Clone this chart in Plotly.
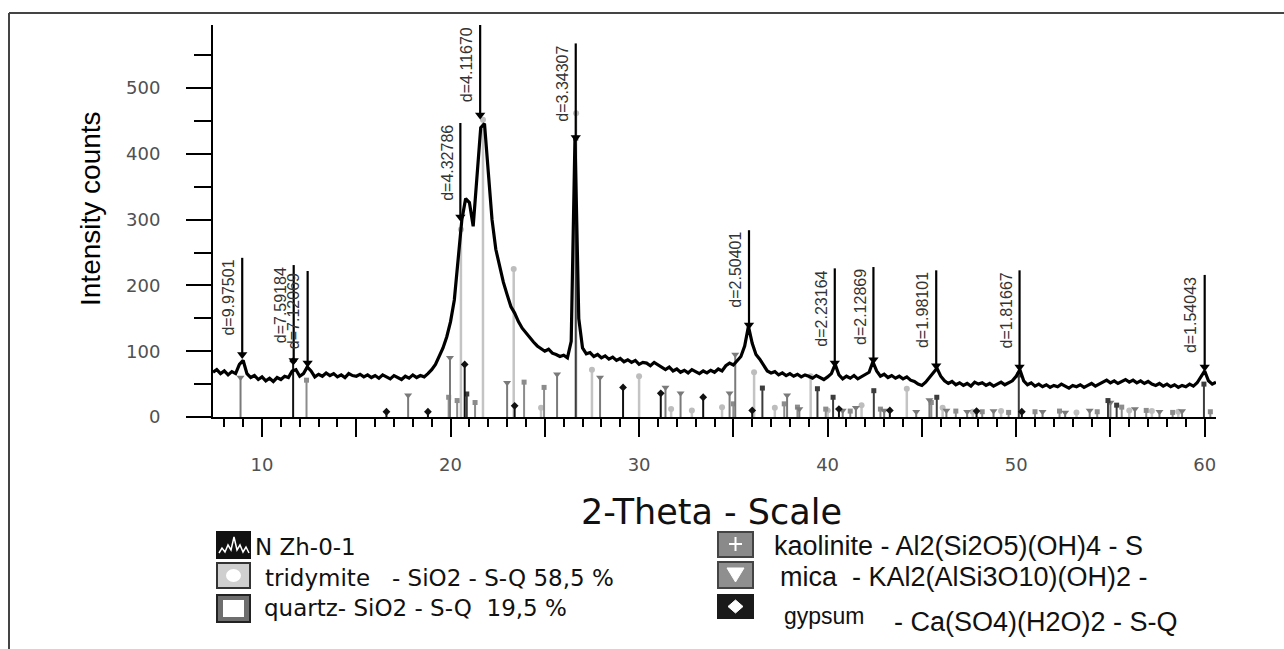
import plotly.graph_objects as go

# ---------------- data ----------------
two_theta_start = 7.4
two_theta_step = 0.2
intensity = [
    68, 72, 66, 70, 64, 69, 66, 80, 86, 66,      # 7.4 - 9.2
    60, 63, 57, 61, 55, 59, 54, 60, 57, 62,      # 9.4 - 11.2
    60, 70, 72, 62, 66, 76, 70, 61, 65, 62,      # 11.4 - 13.2
    67, 63, 66, 61, 64, 60, 66, 63, 62, 65,      # 13.4 - 15.2
    61, 64, 60, 63, 59, 64, 61, 58, 63, 60,      # 15.4 - 17.2
    57, 62, 59, 64, 60, 63, 61, 66, 72, 80,      # 17.4 - 19.2
    92, 105, 122, 145, 178, 240, 300, 332, 326, 290,   # 19.4 - 21.2
    360, 440, 446, 370, 300, 255, 228, 205, 186, 168,  # 21.4 - 23.2
    158, 145, 135, 128, 120, 114, 108, 104, 100, 103,  # 23.4 - 25.2
    97, 95, 92, 94, 90, 115, 425, 150, 105, 96,        # 25.4 - 27.2
    98, 92, 95, 90, 93, 88, 91, 86, 89, 84,      # 27.4 - 29.2
    87, 83, 86, 80, 83, 82, 78, 83, 79, 75,      # 29.4 - 31.2
    72, 76, 70, 73, 68, 71, 67, 72, 69, 66,      # 31.4 - 33.2
    70, 67, 71, 68, 73, 70, 78, 82, 79, 86,      # 33.4 - 35.2
    92, 108, 138, 112, 95, 88, 78, 70, 67, 69,   # 35.4 - 37.2
    64, 67, 63, 66, 62, 65, 61, 64, 62, 59,      # 37.4 - 39.2
    63, 60, 57, 61, 66, 80, 64, 58, 62, 59,      # 39.4 - 41.2
    63, 58, 61, 64, 68, 84, 70, 62, 65, 60,      # 41.4 - 43.2
    63, 59, 62, 58, 61, 56, 54, 50, 48, 53,      # 43.4 - 45.2
    60, 68, 74, 62, 55, 51, 54, 49, 52, 48,      # 45.4 - 47.2
    51, 47, 53, 50, 52, 48, 51, 47, 50, 53,      # 47.4 - 49.2
    49, 52, 55, 62, 72, 55, 49, 52, 47, 50,      # 49.4 - 51.2
    46, 49, 45, 48, 46, 50, 47, 44, 48, 46,      # 51.4 - 53.2
    49, 45, 48, 51, 47, 50, 53, 56, 52, 55,      # 53.4 - 55.2
    51, 54, 57, 53, 56, 52, 55, 51, 54, 50,      # 55.4 - 57.2
    48, 51, 47, 50, 46, 49, 45, 48, 46, 50,      # 57.4 - 59.2
    47, 52, 60, 70, 55, 50, 53,                  # 59.4 - 60.6
]
two_theta = [round(two_theta_start + i * two_theta_step, 2) for i in range(len(intensity))]

peak_labels = ["d=9.97501", "d=7.59184", "d=7.12069", "d=4.32786", "d=4.11670", "d=3.34307",
               "d=2.50401", "d=2.23164", "d=2.12869", "d=1.98101", "d=1.81667", "d=1.54043"]
peak_2theta = [8.95, 11.68, 12.42, 20.52, 21.57, 26.64, 35.83, 40.38, 42.43, 45.76, 50.18, 60.00]
peak_top = [242, 231, 222, 447, 596, 568, 284, 226, 228, 223, 223, 216]
peak_mark = [95, 86, 82, 304, 459, 425, 140, 82, 87, 78, 76, 76]

tridymite_pos = [20.55, 21.72, 23.35, 24.8, 26.66, 27.5, 30.0, 31.7, 32.8, 34.4, 36.1, 37.2, 39.1,
                 40.0, 41.8, 44.2, 46.1, 47.7, 49.2, 53.2, 56.0, 57.2, 58.6]
tridymite_int = [285, 452, 225, 14, 462, 72, 62, 12, 10, 15, 68, 14, 62,
                 10, 18, 43, 14, 8, 9, 7, 10, 9, 8]
quartz_pos = [20.86, 26.64, 36.54, 39.46, 40.29, 42.45, 45.79, 50.14, 54.87, 55.33, 59.96]
quartz_int = [35, 424, 44, 43, 30, 40, 30, 64, 25, 18, 50]
kaolinite_pos = [12.36, 19.9, 20.35, 21.3, 23.9, 24.96, 35.0, 37.7, 38.4, 39.9, 41.2, 42.8, 45.5,
                 46.8, 48.2, 49.6, 51.0, 52.3, 54.3, 55.6, 56.9, 58.3, 60.3]
kaolinite_int = [56, 30, 25, 22, 53, 45, 20, 20, 15, 12, 9, 12, 22,
                 9, 8, 7, 8, 9, 8, 15, 10, 7, 8]
mica_pos = [8.86, 17.75, 19.97, 23.0, 25.65, 27.93, 31.4, 32.2, 34.8, 35.1, 37.85, 38.5, 40.8, 41.5,
            43.0, 44.7, 45.4, 46.3, 47.4, 48.8, 51.4, 52.6, 53.9, 55.0, 56.3, 57.6, 58.8]
mica_int = [60, 33, 90, 52, 65, 60, 45, 36, 36, 95, 33, 12, 10, 14,
            10, 8, 26, 10, 8, 9, 8, 7, 10, 22, 12, 8, 9]
gypsum_pos = [11.65, 16.6, 18.8, 20.75, 23.4, 29.15, 31.15, 33.4, 36.0, 40.6, 43.3, 47.9, 50.3]
gypsum_int = [85, 8, 8, 80, 17, 45, 36, 30, 10, 12, 10, 9, 8]

x_tick_vals = [10, 15, 20, 25, 30, 35, 40, 45, 50, 55, 60]
x_tick_text = ["10", "", "20", "", "30", "", "40", "", "50", "", "60"]

legend_left = ["N Zh-0-1",
               "tridymite\u00a0\u00a0 - SiO2 - S-Q 58,5 %",
               "quartz- SiO2 - S-Q \u00a019,5 %"]
legend_right = ["kaolinite - Al2(Si2O5)(OH)4 - S",
                "mica \u00a0- KAl2(AlSi3O10)(OH)2 -",
                "gypsum",
                "- Ca(SO4)(H2O)2 - S-Q"]

# ---------------- geometry helpers (pixel -> paper) ----------------
FW, FH = 1284, 649
L, R, T, B = 213, 1216, 25, 417
PW, PH = R - L, B - T


def X(px):
    return (px - L) / PW


def Y(py):
    return (B - py) / PH


fig = go.Figure()


def sticks(pos, ints, color, width, symbol, msize, mcolor):
    xs, ys = [], []
    for p, h in zip(pos, ints):
        xs += [p, p, None]
        ys += [0, h, None]
    fig.add_trace(go.Scatter(x=xs, y=ys, mode="lines", line=dict(color=color, width=width),
                             hoverinfo="skip", showlegend=False))
    fig.add_trace(go.Scatter(x=pos, y=ints, mode="markers",
                             marker=dict(symbol=symbol, size=msize, color=mcolor),
                             hoverinfo="skip", showlegend=False))


sticks(tridymite_pos, tridymite_int, "#c4c4c4", 2.5, "circle", 6, "#bdbdbd")
sticks(kaolinite_pos, kaolinite_int, "#8c8c8c", 2, "square", 5, "#8c8c8c")
sticks(mica_pos, mica_int, "#7a7a7a", 2, "triangle-down", 7, "#7a7a7a")
sticks(quartz_pos, quartz_int, "#3c3c3c", 2, "square", 5, "#3c3c3c")
sticks(gypsum_pos, gypsum_int, "#111111", 2, "diamond", 6, "#111111")

# measured pattern
fig.add_trace(go.Scatter(x=two_theta, y=intensity, mode="lines",
                         line=dict(color="black", width=3.2, shape="linear"),
                         name="N Zh-0-1", showlegend=False))

# d-spacing marker lines
lx, ly = [], []
for p, t, m in zip(peak_2theta, peak_top, peak_mark):
    lx += [p, p, None]
    ly += [m, t, None]
fig.add_trace(go.Scatter(x=lx, y=ly, mode="lines", line=dict(color="black", width=2.2),
                         hoverinfo="skip", showlegend=False))
fig.add_trace(go.Scatter(x=peak_2theta, y=peak_mark, mode="markers",
                         marker=dict(symbol="triangle-down", size=9, color="black"),
                         hoverinfo="skip", showlegend=False, cliponaxis=False))

annotations = []
for lab, p, t in zip(peak_labels, peak_2theta, peak_top):
    annotations.append(dict(x=p, y=t, xref="x", yref="y", text=lab, textangle=-90, showarrow=False,
                            xanchor="right", yanchor="top", xshift=-3,
                            font=dict(family="Liberation Sans, Arial", size=16, color="#333333")))

# axis titles
annotations.append(dict(x=X(90), y=Y(209), xref="paper", yref="paper", text="Intensity counts",
                        textangle=-90, showarrow=False, xanchor="center", yanchor="middle",
                        font=dict(family="Liberation Sans, Arial", size=28, color="black")))
annotations.append(dict(x=X(711), y=Y(512), xref="paper", yref="paper", text="2-Theta - Scale",
                        showarrow=False, xanchor="center", yanchor="middle",
                        font=dict(family="DejaVu Sans", size=35, color="#111111")))

# legend texts
left_pos = [(253, 547), (263, 578), (262, 608)]
for txt, (px, py) in zip(legend_left, left_pos):
    annotations.append(dict(x=X(px), y=Y(py), xref="paper", yref="paper", text=txt, showarrow=False,
                            xanchor="left", yanchor="middle",
                            font=dict(family="DejaVu Sans", size=23, color="#111111")))
right_pos = [(772, 546, 27), (778, 577, 27), (782, 616, 23), (892, 622, 27)]
for txt, (px, py, fs) in zip(legend_right, right_pos):
    annotations.append(dict(x=X(px), y=Y(py), xref="paper", yref="paper", text=txt, showarrow=False,
                            xanchor="left", yanchor="middle",
                            font=dict(family="Liberation Sans, Arial", size=fs, color="#111111")))

shapes = []


def rect(x0, y0, x1, y1, fill, line="#222222", lw=2):
    shapes.append(dict(type="rect", xref="paper", yref="paper", x0=X(x0), x1=X(x1), y0=Y(y1), y1=Y(y0),
                       fillcolor=fill, line=dict(color=line, width=lw), layer="above"))


def path(pts, fill=None, line="white", lw=2, closed=False):
    d = "M " + " L ".join(f"{X(a):.5f},{Y(b):.5f}" for a, b in pts)
    if closed:
        d += " Z"
    shapes.append(dict(type="path", xref="paper", yref="paper", path=d,
                       fillcolor=fill if fill else "rgba(0,0,0,0)",
                       line=dict(color=line, width=lw), layer="above"))


# outer frame (top + left)
shapes.append(dict(type="line", xref="paper", yref="paper", x0=X(9), x1=X(1284), y0=Y(13), y1=Y(13),
                   line=dict(color="#444444", width=2)))
shapes.append(dict(type="line", xref="paper", yref="paper", x0=X(9), x1=X(9), y0=Y(13), y1=Y(649),
                   line=dict(color="#444444", width=2)))

# legend icons - left column
rect(217, 532, 250, 558, "#111111", "#111111")
path([(219, 553), (222, 548), (225, 552), (228, 545), (231, 550), (234, 537), (237, 550),
      (240, 545), (243, 552), (246, 547), (249, 553)], line="white", lw=1.5)
rect(217, 563, 250, 588, "#cfcfcf", "#333333")
shapes.append(dict(type="circle", xref="paper", yref="paper", x0=X(226), x1=X(241), y0=Y(582), y1=Y(569),
                   fillcolor="white", line=dict(color="white", width=0), layer="above"))
rect(217, 595, 250, 622, "#6e6e6e", "#222222")
rect(223, 600, 244, 617, "white", "white", 0)
# legend icons - right column
rect(718, 532, 753, 557, "#8a8a8a", "#444444")
path([(729, 544), (742, 544)], line="white", lw=2)
path([(735.5, 537), (735.5, 551)], line="white", lw=2)
rect(718, 562, 753, 588, "#8f8f8f", "#444444")
path([(727, 568), (744, 568), (735.5, 582)], fill="white", line="white", lw=1, closed=True)
rect(718, 595, 753, 618, "#1a1a1a", "#1a1a1a")
path([(735.5, 600), (743, 606.5), (735.5, 613), (728, 606.5)], fill="white", line="white", lw=1, closed=True)

tick_font = dict(family="DejaVu Sans", size=18, color="#505050")
fig.update_layout(
    width=FW, height=FH,
    margin=dict(l=L, r=FW - R, t=T, b=FH - B, pad=0),
    paper_bgcolor="white", plot_bgcolor="white",
    showlegend=False,
    annotations=annotations,
    shapes=shapes,
    xaxis=dict(range=[7.4, 60.6], tickmode="array", tickvals=x_tick_vals, ticktext=x_tick_text,
               ticks="outside", ticklen=18, tickwidth=2, tickcolor="black",
               showline=True, linecolor="black", linewidth=2, showgrid=False, zeroline=False,
               tickfont=tick_font, ticklabelstandoff=12,
               minor=dict(dtick=1, tick0=0, ticks="outside", ticklen=8, tickwidth=2, tickcolor="black")),
    yaxis=dict(range=[0, 596], dtick=100, tick0=0,
               ticks="outside", ticklen=25, tickwidth=2, tickcolor="black",
               showline=True, linecolor="black", linewidth=2, showgrid=False, zeroline=False,
               tickfont=tick_font, ticklabelstandoff=22,
               minor=dict(dtick=50, tick0=0, ticks="outside", ticklen=17, tickwidth=2, tickcolor="black")),
)

fig.write_html("out.html", config={"displayModeBar": False},
               post_script="document.body.style.margin='0';")
